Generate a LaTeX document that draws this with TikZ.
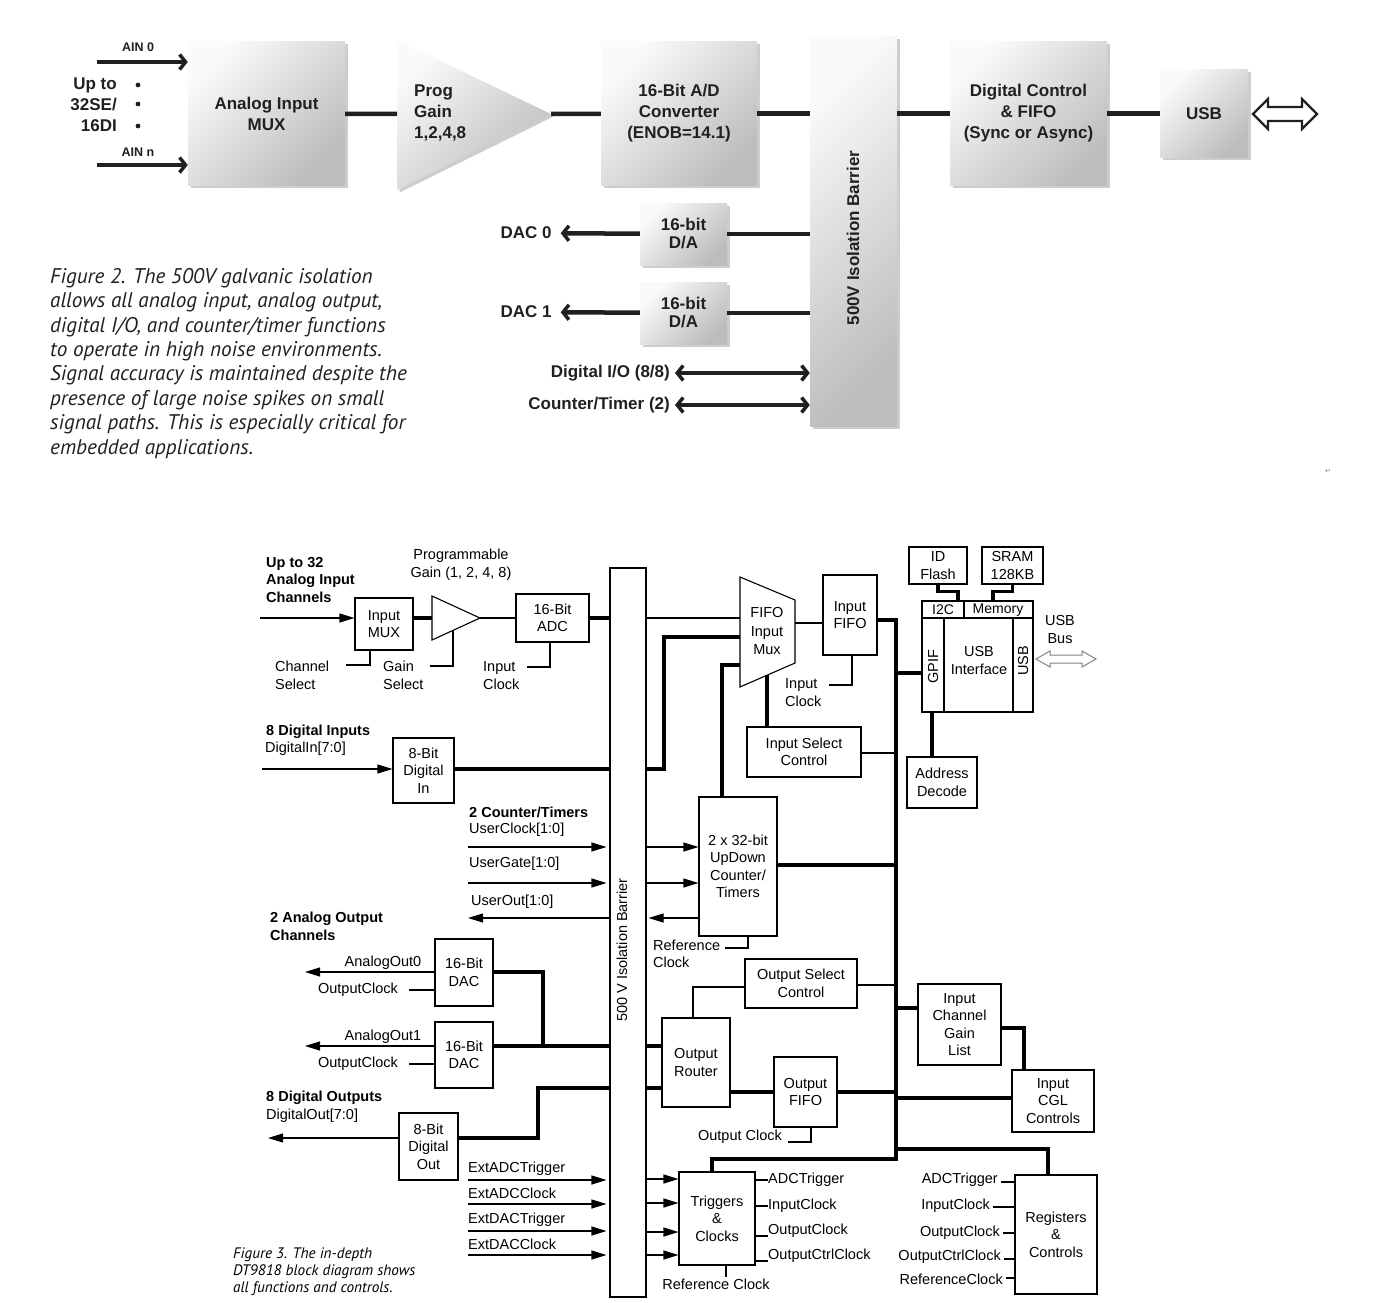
\documentclass[tikz,border=0pt]{standalone}
\usepackage{fontspec}
\setmainfont{Liberation Sans}
\newfontfamily\figcapfont{PT Sans}
\newfontfamily\glyphfont{DejaVu Sans}
\usepackage{tikz}
\usetikzlibrary{arrows.meta, shadows, calc}
\definecolor{inkgray}{RGB}{35,31,32}
\definecolor{shadowgray}{RGB}{205,205,205}
\newcommand{\topfont}{\bfseries\fontsize{17}{21}\selectfont}
\newcommand{\btmfont}{\fontsize{14.5}{17.5}\selectfont}
\newcommand{\btmbold}{\bfseries\fontsize{14.5}{17.5}\selectfont}

\begin{document}
\begin{tikzpicture}[
    x=1pt, y=-1pt,
    gfill/.style={top color=gray!4, bottom color=gray!52, shading angle=45,
                  drop shadow={shadow xshift=2.5pt, shadow yshift=-2.5pt, fill=shadowgray, opacity=1}},
    gbox/.style={gfill, align=center, inner sep=0pt, text=inkgray, font=\topfont},
    tlabel/.style={inner sep=0pt, inner xsep=5pt, text=inkgray, font=\topfont},
    tline/.style={line width=4.5pt, inkgray},
    tarrow/.style={tline, -{Straight Barb[length=6pt, width=15pt, line width=3.5pt]}},
    tdarrow/.style={tline, {Straight Barb[length=6pt, width=15pt, line width=3.5pt]}-{Straight Barb[length=6pt, width=15pt, line width=3.5pt]}},
    blk/.style={draw, line width=1.1pt, fill=white, align=center, inner sep=0pt, font=\btmfont},
    lbl/.style={inner sep=0pt, font=\btmfont},
    hdr/.style={inner sep=0pt, align=left, font=\btmbold},
    sig/.style={line width=1.1pt},
    midline/.style={line width=2.2pt},
    bus/.style={line width=3.5pt},
    sarrow/.style={sig, -{Triangle[length=15pt, width=9pt]}}
]
    \useasboundingbox (0,0) rectangle (1378,1303);

    % ---------------- Figure 2 ----------------
    \node[gbox, minimum width=157pt, minimum height=143pt] (amux) at (266.5,113.5) {Analog Input\\MUX};
    \shade[gfill] (397,40) -- (551,114) -- (397,190) -- cycle;
    \coordinate (gainin) at (397,114);
    \coordinate (gainout) at (551,114);
    \node[anchor=west, align=left, inner sep=0pt, text=inkgray, font=\topfont] (gain) at (414,113) {Prog\\Gain\\1,2,4,8};
    \node[gbox, minimum width=156pt, minimum height=143pt] (adconv) at (679,113.5) {16-Bit A/D\\Converter\\(ENOB=14.1)};
    \node[gbox, minimum width=87pt, minimum height=389pt] (tbar) at (853.5,231.5) {};
    \node[tlabel, rotate=90] at (853,238) {500V Isolation Barrier};
    \node[gbox, minimum width=157pt, minimum height=143pt] (dcf) at (1028.5,113.5) {Digital Control\\\& FIFO\\(Sync or Async)};
    \node[gbox, minimum width=88pt, minimum height=87pt] (tusb) at (1204,113.5) {USB};

    % inputs
    \coordinate (ain0) at (97,62);
    \coordinate (ainn) at (97,165);
    \draw[tarrow] (ain0) -- (ain0 -| amux.west);
    \draw[tarrow] (ainn) -- (ainn -| amux.west);
    \node[inner sep=0pt, text=inkgray, font=\bfseries\fontsize{12.5}{15}\selectfont] at (138,47) {AIN 0};
    \node[inner sep=0pt, text=inkgray, font=\bfseries\fontsize{12.5}{15}\selectfont] at (138,152) {AIN n};
    \node[anchor=east, align=right, inner sep=0pt, text=inkgray, font=\topfont] (upto) at (117,105) {Up to\\32SE/\\16DI};
    \foreach \yy in {85,104,126} {
        \fill[inkgray] (138,\yy) circle (2.4pt);
    }

    % main chain
    \draw[tline] (amux) -- (gainin);
    \draw[tline] (gainout) -- (adconv);
    \draw[tline] (adconv) -- (adconv -| tbar.west);
    \draw[tline] (adconv -| tbar.east) -- (dcf);
    \draw[tline] (dcf) -- (tusb);
    \draw[inkgray, line width=2.2pt, fill=white] (1253,114) -- (1268,99) -- (1268,107) -- (1302,107) -- (1302,99)
        -- (1317,114) -- (1302,129) -- (1302,121) -- (1268,121) -- (1268,129) -- cycle;

    % outputs
    \node[gbox, minimum width=87pt, minimum height=62pt, font=\bfseries\fontsize{17}{18}\selectfont] (da0) at (683.5,234) {16-bit\\D/A};
    \node[gbox, minimum width=87pt, minimum height=62pt, font=\bfseries\fontsize{17}{18}\selectfont] (da1) at (683.5,313) {16-bit\\D/A};
    \node[tlabel, inner xsep=9pt] (dac0) at (526,233) {DAC 0};
    \node[tlabel, inner xsep=9pt] (dac1) at (526,312) {DAC 1};
    \draw[tarrow] (da0) -- (dac0);
    \draw[tarrow] (da1) -- (dac1);
    \draw[tline] (da0) -- (da0 -| tbar.west);
    \draw[tline] (da1) -- (da1 -| tbar.west);
    \node[tlabel, anchor=east] (dio) at (675,373) {Digital I/O (8/8)};
    \node[tlabel, anchor=east] (ctm) at (675,405) {Counter/Timer (2)};
    \draw[tdarrow] (dio.east) -- (dio.east -| tbar.west);
    \draw[tdarrow] (ctm.east) -- (ctm.east -| tbar.west);

    \node[anchor=north west, align=left, inner sep=0pt, text=inkgray,
          font=\figcapfont\itshape\fontsize{21.2}{24.4}\selectfont] (cap2) at (50,268)
        {Figure 2. The 500V galvanic isolation\\
         allows all analog input, analog output,\\
         digital I/O, and counter/timer functions\\
         to operate in high noise environments.\\
         Signal accuracy is maintained despite the\\
         presence of large noise spikes on small\\
         signal paths. This is especially critical for\\
         embedded applications.};
    \node[inner sep=0pt, text=gray, font=\glyphfont\fontsize{7}{8}\selectfont] at (1328,471) {↵};

    % ---------------- Figure 3 ----------------
    \node[blk, minimum width=36pt, minimum height=729pt] (bar) at (628,932.5) {};
    \node[lbl, rotate=90] at (622,950) {500 V Isolation Barrier};

    % analog input chain
    \node[hdr, anchor=west] at (266,580) {Up to 32\\Analog Input\\Channels};
    \node[lbl, align=center] at (461,564.5) {Programmable\\Gain (1, 2, 4, 8)};
    \node[blk, minimum width=58pt, minimum height=52pt] (imux) at (384,624) {Input\\MUX};
    \draw[sig, fill=white] (432,596) -- (480,618) -- (432,640) -- cycle;
    \coordinate (ampin) at (432,618);
    \coordinate (ampout) at (480,618);
    \node[blk, minimum width=73pt, minimum height=48pt] (adc) at (552.5,618) {16-Bit\\ADC};
    \coordinate (ainsrc) at (260,618);
    \draw[sarrow] (ainsrc) -- (imux.west |- ainsrc);
    \draw[bus] (imux.east |- ampin) -- (ampin);
    \draw[midline] (ampout) -- (adc.west |- ampout);
    \draw[bus] (adc.east |- ampout) -- (bar.west |- ampout);
    \node[lbl, anchor=west, align=left] at (275,675.5) {Channel\\Select};
    \node[lbl, anchor=west, align=left] at (383,675.5) {Gain\\Select};
    \node[lbl, anchor=west, align=left] at (483,675.5) {Input\\Clock};
    \draw[sig] (346,665) -| (imux.south -| 370,0);
    \draw[sig] (430,666) -| (453,630);
    \draw[sig] (527,667) -| (adc.south -| 550,0);

    % digital input
    \node[hdr, anchor=west] at (266,732) {8 Digital Inputs};
    \node[lbl, anchor=west] at (265,749) {DigitalIn[7:0]};
    \node[blk, minimum width=61pt, minimum height=65pt] (din) at (423.5,770.5) {8-Bit\\Digital\\In};
    \coordinate (dinsrc) at (262,769);
    \draw[sarrow] (dinsrc) -- (din.west |- dinsrc);
    \draw[bus] (din.east |- dinsrc) -- (bar.west |- dinsrc);

    % counter/timer signals
    \node[hdr, anchor=west] at (469,812) {2 Counter/Timers};
    \node[lbl, anchor=west] at (469,830) {UserClock[1:0]};
    \node[lbl, anchor=west] at (469,864) {UserGate[1:0]};
    \node[lbl, anchor=west] at (471,902) {UserOut[1:0]};
    \coordinate (uclk) at (468,847);
    \coordinate (ugate) at (468,883);
    \coordinate (uout) at (468,918);
    \draw[sarrow] (uclk) -- ([xshift=-3pt]bar.west |- uclk);
    \draw[sarrow] (ugate) -- ([xshift=-3pt]bar.west |- ugate);
    \draw[sarrow] (bar.west |- uout) -- (uout);

    % analog outputs
    \node[hdr, anchor=west] at (270,926.5) {2 Analog Output\\Channels};
    \node[blk, minimum width=58pt, minimum height=67pt] (dac0b) at (464,972.5) {16-Bit\\DAC};
    \node[blk, minimum width=58pt, minimum height=66pt] (dac1b) at (464,1055) {16-Bit\\DAC};
    \coordinate (aout0) at (305,972);
    \coordinate (aout1) at (305,1046);
    \coordinate (oclk0) at (409,990);
    \coordinate (oclk1) at (409,1064);
    \draw[sarrow] (dac0b.west |- aout0) -- (aout0);
    \draw[sarrow] (dac1b.west |- aout1) -- (aout1);
    \draw[sig] (oclk0) -- (dac0b.west |- oclk0);
    \draw[sig] (oclk1) -- (dac1b.west |- oclk1);
    \node[lbl] at (383,963) {AnalogOut0};
    \node[lbl] at (383,1037) {AnalogOut1};
    \node[lbl] at (358,990) {OutputClock};
    \node[lbl] at (358,1064) {OutputClock};
    \draw[bus] (dac0b.east |- aout0) -| (543,1046);
    \draw[bus] (dac1b.east |- aout1) -- (bar.west |- aout1);

    % digital outputs
    \node[hdr, anchor=west] at (266,1098) {8 Digital Outputs};
    \node[lbl, anchor=west] at (266,1116) {DigitalOut[7:0]};
    \node[blk, minimum width=59pt, minimum height=67pt] (dout) at (428.5,1146.5) {8-Bit\\Digital\\Out};
    \coordinate (dosink) at (268,1138);
    \draw[sarrow] (dout.west |- dosink) -- (dosink);
    \draw[bus] (dout.east |- dosink) -- (538,1138) |- (bar.west |- 0,1088);

    % external triggers / clocks
    \foreach \lab/\yy in {ExtADCTrigger/1180, ExtADCClock/1204, ExtDACTrigger/1231, ExtDACClock/1255} {
        \node[lbl, anchor=west] at (468,\yy-11) {\lab};
        \coordinate (ext\yy) at (468,\yy);
        \draw[sarrow] (ext\yy) -- ([xshift=-3pt]bar.west |- ext\yy);
    }
    \node[anchor=west, align=left, inner sep=0pt,
          font=\figcapfont\itshape\fontsize{15.2}{17}\selectfont] (cap3) at (233,1272)
        {Figure 3. The in-depth\\DT9818 block diagram shows\\all functions and controls.};

    % FIFO input mux and input FIFO
    \draw[sig, fill=white] (740,577) -- (795,600) -- (795,663) -- (740,687) -- cycle;
    \node[lbl, align=center, font=\fontsize{14.5}{18.5}\selectfont] (fmux) at (767,631.5) {FIFO\\Input\\Mux};
    \node[blk, minimum width=54pt, minimum height=80pt] (ififo) at (850,615) {Input\\FIFO};
    \draw[sig] (bar.east |- 0,618) -- (740,618);
    \draw[bus] (bar.east |- dinsrc) -| (664,637) -- (740,637);
    \draw[midline] (795,623) -- (ififo.west |- 0,623);
    \draw[sig] (ififo.south -| 852,0) |- (829,685);
    \node[lbl, anchor=west, align=left] at (785,692.5) {Input\\Clock};
    \node[blk, minimum width=114pt, minimum height=50pt] (isc) at (804,752) {Input Select\\Control};
    \draw[bus] (767,675) -- (isc.north -| 767,0);
    \draw[sig] (isc.east |- 0,753) -- (896,753);

    % counter/timers block
    \node[blk, minimum width=78pt, minimum height=139pt] (ctr) at (738,866.5) {2 x 32-bit\\UpDown\\Counter/\\Timers};
    \draw[bus] (ctr.north -| 722,0) |- (740,665);
    \draw[sarrow] (bar.east |- uclk) -- (ctr.west |- uclk);
    \draw[sarrow] (bar.east |- ugate) -- (ctr.west |- ugate);
    \draw[sarrow] (ctr.west |- uout) -- ([xshift=2pt]bar.east |- uout);
    \draw[bus] (ctr.east |- 0,865) -- (896,865);
    \node[lbl, anchor=west, align=left] at (653,954) {Reference\\Clock};
    \draw[sig] (725,948) -| (ctr.south -| 748,0);

    % output path
    \node[blk, minimum width=112pt, minimum height=49pt] (osc) at (801,983.5) {Output Select\\Control};
    \node[blk, minimum width=68pt, minimum height=89pt] (orout) at (696,1062.5) {Output\\Router};
    \node[blk, minimum width=63pt, minimum height=70pt] (ofifo) at (805.5,1092) {Output\\FIFO};
    \draw[sig] (osc.east |- 0,985) -- (896,985);
    \draw[midline] (osc.west |- 0,987) -| (orout.north -| 693,0);
    \draw[bus] (bar.east |- aout1) -- (orout.west |- aout1);
    \draw[bus] (bar.east |- 0,1088) -- (orout.west |- 0,1088);
    \draw[bus] (orout.east |- 0,1092) -- (ofifo.west |- 0,1092);
    \draw[bus] (ofifo.east |- 0,1092) -- (896,1092);
    \node[lbl] at (740,1137) {Output Clock};
    \draw[sig] (788,1142) -| (ofifo.south -| 811,0);

    % USB side
    \node[blk, minimum width=111pt, minimum height=111pt] (usbi) at (977.5,656.5) {};
    \draw[sig] (usbi.west |- 0,618) -- (usbi.east |- 0,618);
    \draw[sig] (964,601) -- (964,618);
    \draw[sig] (944,618) -- (944,712);
    \draw[sig] (1013,618) -- (1013,712);
    \node[lbl, font=\fontsize{14}{16}\selectfont] at (943,610) {I2C};
    \node[lbl, font=\fontsize{14}{16}\selectfont] at (998,610) {Memory};
    \node[lbl, align=center] at (979,660.5) {USB\\Interface};
    \node[lbl, rotate=90] at (933,667) {GPIF};
    \node[lbl, rotate=90] at (1023,661) {USB};
    \node[blk, minimum width=58pt, minimum height=37pt] (idf) at (938,565.5) {ID\\Flash};
    \node[blk, minimum width=61pt, minimum height=37pt] (sram) at (1012.5,565.5) {SRAM\\128KB};
    \draw[bus] (idf.south) -- ++(0,7) -| (958,601);
    \draw[bus] (sram.south) -- ++(0,7) -| (993,601);
    \node[lbl, align=center] at (1060,629.5) {USB\\Bus};
    \draw[gray, line width=1pt, fill=white] (1036,659) -- (1050,651) -- (1050,655) -- (1082,655) -- (1082,651)
        -- (1096,659) -- (1082,667) -- (1082,663) -- (1050,663) -- (1050,667) -- cycle;
    \draw[bus] (896,673) -- (usbi.west |- 0,673);
    \node[blk, minimum width=70pt, minimum height=51pt] (adec) at (942,782.5) {Address\\Decode};
    \draw[bus] (usbi.south -| 932,0) -- (adec.north -| 932,0);

    % channel gain list
    \node[blk, minimum width=83pt, minimum height=81pt] (icgl) at (959.5,1024.5) {Input\\Channel\\Gain\\List};
    \node[blk, minimum width=82pt, minimum height=62pt] (icgc) at (1053,1101) {Input\\CGL\\Controls};
    \draw[bus] (896,1008) -- (icgl.west |- 0,1008);
    \draw[bus] (icgl.east |- 0,1028) -| (icgc.north -| 1024,0);
    \draw[bus] (896,1098) -- (icgc.west |- 0,1098);

    % triggers and registers
    \node[blk, minimum width=76pt, minimum height=93pt] (trg) at (717,1218.5) {Triggers\\\&\\Clocks};
    \node[blk, minimum width=82pt, minimum height=119pt] (regs) at (1056,1234.5) {Registers\\\&\\Controls};
    \draw[bus] (ififo.east |- 0,620) -- (896,620) -- (896,1159) -| (trg.north -| 712,0);
    \draw[bus] (896,1149) -| (regs.north -| 1048,0);
    \foreach \yy in {1179,1203,1232,1255} {
        \draw[sarrow] (bar.east |- 0,\yy) -- (trg.west |- 0,\yy);
    }
    \foreach \lab/\ty/\sy in {ADCTrigger/1180/1180, InputClock/1206/1206, OutputClock/1231/1236, OutputCtrlClock/1256/1261} {
        \node[lbl, anchor=west] at (768,\ty) {\lab};
        \draw[sig] (trg.east |- 0,\sy) -- (768,\sy);
    }
    \draw[sig] (trg.south -| 726,0) -- ++(0,11);
    \node[lbl] at (716,1284) {Reference Clock};
    \foreach \lab/\ty/\tx/\sy in {ADCTrigger/1180/998/1182, InputClock/1206/990/1207, OutputClock/1233/1000/1233,
                                 OutputCtrlClock/1257/1001/1259, ReferenceClock/1279/1003/1278} {
        \node[lbl, anchor=east] at (\tx,\ty) {\lab};
        \draw[sig] (regs.west |- 0,\sy) -- (\tx+3,\sy);
    }
\end{tikzpicture}
\end{document}
